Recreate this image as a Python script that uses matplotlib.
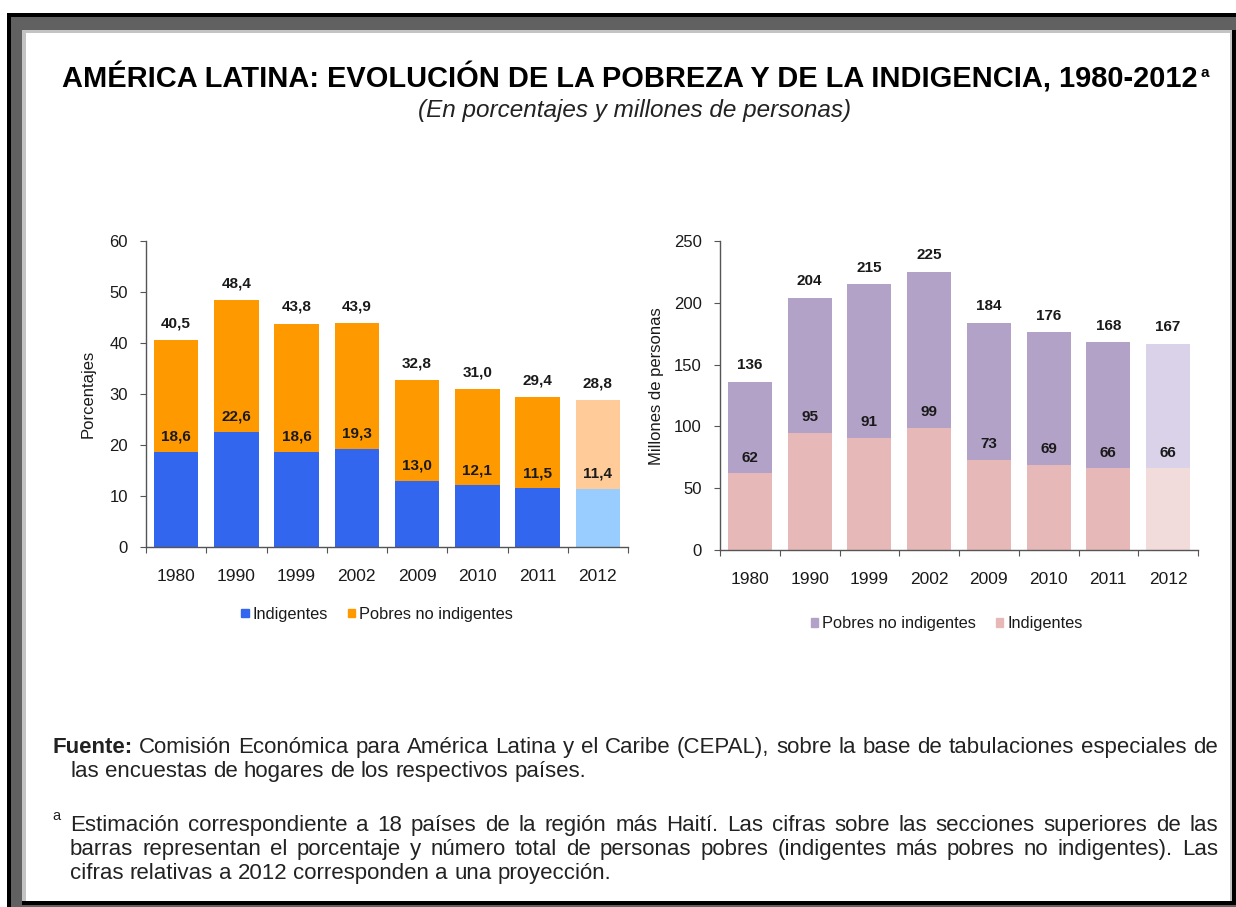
import matplotlib
matplotlib.use("Agg")
import matplotlib.pyplot as plt
from matplotlib.patches import Rectangle

plt.rcParams['font.family'] = ['Liberation Sans', 'DejaVu Sans']

years = ['1980', '1990', '1999', '2002', '2009', '2010', '2011', '2012']

# porcentajes
pct_total = [40.5, 48.4, 43.8, 43.9, 32.8, 31.0, 29.4, 28.8]
pct_indig = [18.6, 22.6, 18.6, 19.3, 13.0, 12.1, 11.5, 11.4]

# millones de personas
mill_total = [136, 204, 215, 225, 184, 176, 168, 167]
mill_indig = [62, 95, 91, 99, 73, 69, 66, 66]

W, H = 1236, 907

def fx(px):
    return px / W

def fy(py):
    return (H - py) / H

def fmt(v, dec):
    if dec == 0:
        return '%d' % v
    return ('%.1f' % v).replace('.', ',')

fig = plt.figure(figsize=(W / 100, H / 100), dpi=100)
fig.patch.set_facecolor('white')

# marco
def box(x0, y0, x1, y1, c):
    fig.patches.append(Rectangle((fx(x0), fy(y1)), fx(x1) - fx(x0), fy(y0) - fy(y1),
                                 transform=fig.transFigure, color=c, lw=0, zorder=-10))

box(7, 13, 1236, 907, 'black')
box(11, 17, 1236, 907, '#616161')
box(22, 30, 1236, 905, 'black')
box(22, 30, 1232, 901, '#c3c3c3')
box(26, 33, 1230, 901, 'white')


def chart(rect, lower, total, dec, ymax, step, c_low, c_up, c_low2, c_up2, ylabel, lab_xy, leg_order, leg_xy):
    ax = fig.add_axes(rect)
    x = list(range(len(years)))
    upper = [t - l for t, l in zip(total, lower)]
    cl = [c_low] * (len(x) - 1) + [c_low2]
    cu = [c_up] * (len(x) - 1) + [c_up2]
    bw = 0.74
    ax.bar(x, lower, bw, color=cl, zorder=2)
    ax.bar(x, upper, bw, bottom=lower, color=cu, zorder=2)
    for i in x:
        ax.annotate(fmt(total[i], dec), (i, total[i]), xytext=(0, 12), textcoords='offset points',
                    ha='center', va='center', fontsize=11, fontweight='bold', color='#1a1a1a')
        ax.annotate(fmt(lower[i], dec), (i, lower[i]), xytext=(0, 11), textcoords='offset points',
                    ha='center', va='center', fontsize=11, fontweight='bold', color='#1a1a1a')
    ax.set_xlim(-0.5, len(x) - 0.5)
    ax.set_ylim(0, ymax)
    ax.set_yticks(range(0, ymax + 1, step))
    ax.set_xticks([i - 0.5 for i in range(len(x) + 1)])
    ax.set_xticklabels([])
    ax.set_xticks(x, minor=True)
    ax.set_xticklabels(years, minor=True)
    ax.tick_params(axis='x', which='minor', length=0, pad=16, labelsize=12.5, labelcolor='#1a1a1a')
    ax.tick_params(axis='x', which='major', length=4, color='#555555', direction='out')
    ax.tick_params(axis='y', length=4, color='#555555', pad=9, labelsize=12, labelcolor='#1a1a1a')
    for s in ['top', 'right']:
        ax.spines[s].set_visible(False)
    for s in ['left', 'bottom']:
        ax.spines[s].set_color('#555555')
        ax.spines[s].set_linewidth(1.0)
    ax.set_ylabel(ylabel, fontsize=12, color='#1a1a1a')
    ax.yaxis.set_label_coords(*lab_xy)
    h_low = Rectangle((0, 0), 1, 1, color=c_low)
    h_up = Rectangle((0, 0), 1, 1, color=c_up)
    if leg_order == 'low':
        hs, ls = [h_low, h_up], ['Indigentes', 'Pobres no indigentes']
    else:
        hs, ls = [h_up, h_low], ['Pobres no indigentes', 'Indigentes']
    ax.legend(hs, ls, loc='center', bbox_to_anchor=leg_xy, ncol=2, frameon=False,
              fontsize=11.8, handlelength=0.45, handleheight=0.45, handletextpad=0.25,
              columnspacing=1.2, labelcolor='#1a1a1a')
    return ax


# izquierda: porcentajes
ax1 = chart([fx(146), fy(547), fx(628) - fx(146), fy(241) - fy(547)],
            pct_indig, pct_total, 1, 60, 10,
            '#3366ee', '#ff9900', '#99ccff', '#ffcc99',
            'Porcentajes', (-0.105, 0.5), 'low', (0.48, -0.22))

# derecha: millones
ax2 = chart([fx(720), fy(550), fx(1198) - fx(720), fy(241) - fy(550)],
            mill_indig, mill_total, 0, 250, 50,
            '#e6b9b8', '#b3a2c7', '#f2dcdb', '#d9d2e8',
            'Millones de personas', (-0.118, 0.53), 'up', (0.474, -0.238))

renderer = fig.canvas.get_renderer()

# titulo
t = fig.text(fx(62), fy(88), 'AMÉRICA LATINA: EVOLUCIÓN DE LA POBREZA Y DE LA INDIGENCIA, 1980-2012',
             fontsize=20, fontweight='bold', va='baseline', ha='left')
bb = t.get_window_extent(renderer)
t.set_fontsize(20 * (1194 - 62) / bb.width)
bb = t.get_window_extent(renderer)
fig.text(bb.x1 / W + fx(3), fy(77), 'a', fontsize=11, fontweight='bold', va='baseline')

fig.text(fx(635), fy(117), '(En porcentajes y millones de personas)', fontsize=17.5,
         style='italic', ha='center', va='baseline', color='#222222')


def line(words, x0, x1, y, size, justify=True):
    objs = []
    for w, wt in words:
        objs.append(fig.text(0, fy(y), w, fontsize=size, fontweight=wt, va='baseline',
                             ha='left', color='#222222'))
    widths = [o.get_window_extent(renderer).width for o in objs]
    if justify and len(objs) > 1:
        gap = (x1 - x0 - sum(widths)) / (len(objs) - 1)
    else:
        t1 = fig.text(0, 0, 'a a', fontsize=size)
        t2 = fig.text(0, 0, 'aa', fontsize=size)
        gap = t1.get_window_extent(renderer).width - t2.get_window_extent(renderer).width
        t1.remove()
        t2.remove()
    xx = x0
    for o, w in zip(objs, widths):
        o.set_x(fx(xx))
        xx += w + gap


def words(s, first_bold=False):
    out = [(w, 'normal') for w in s.split()]
    if first_bold:
        out[0] = (out[0][0], 'bold')
    return out


fs = 16
line(words('Fuente: Comisión Económica para América Latina y el Caribe (CEPAL), sobre la base de tabulaciones especiales de', True),
     52, 1218, 753, fs)
line(words('las encuestas de hogares de los respectivos países.'), 70, 1218, 777, fs, justify=False)
fig.text(fx(52), fy(820), 'a', fontsize=10.5, va='baseline', color='#222222')
line(words('Estimación correspondiente a 18 países de la región más Haití. Las cifras sobre las secciones superiores de las'),
     70, 1218, 831, fs)
line(words('barras representan el porcentaje y número total de personas pobres (indigentes más pobres no indigentes). Las'),
     70, 1218, 855, fs)
line(words('cifras relativas a 2012 corresponden a una proyección.'), 70, 1218, 879, fs, justify=False)

fig.savefig('out.png', dpi=100, facecolor='white')
